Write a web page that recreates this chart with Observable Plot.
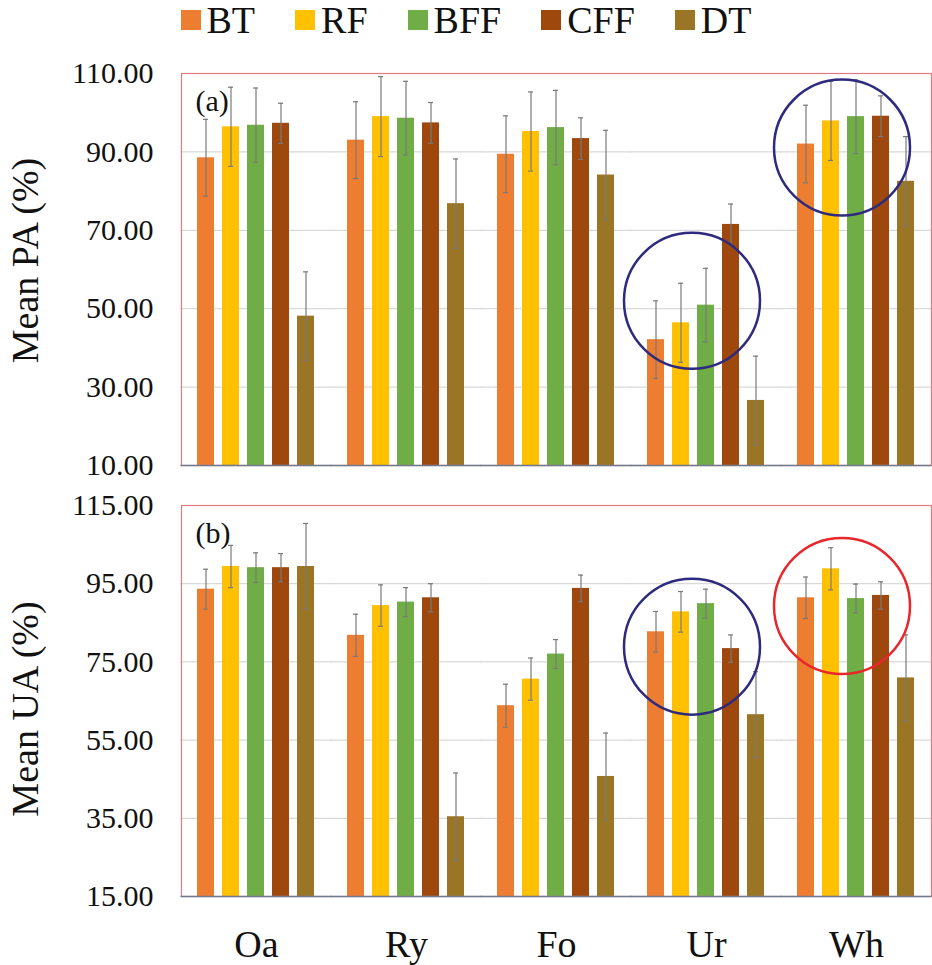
<!DOCTYPE html>
<html>
<head>
<meta charset="utf-8">
<script src="https://cdn.jsdelivr.net/npm/d3@7"></script>
<script src="https://cdn.jsdelivr.net/npm/@observablehq/plot@0.6"></script>
<style>
  html, body { margin: 0; padding: 0; background: #fff; }
  body { width: 932px; font-family: "Liberation Serif", "Times New Roman", serif; color: #111; }
  #legend { height: 40px; display: flex; justify-content: center; align-items: center; font-size: 38px; line-height: 1; }
  #legend .item { display: flex; align-items: center; margin: 0 20px; }
  #legend .sw { width: 20px; height: 20px; margin-right: 6px; }
  svg { display: block; }
</style>
</head>
<body>
<div id="legend"></div>
<div id="chart"></div>
<script>
// Land-cover classes and classification methods
const categories = ["Oa", "Ry", "Fo", "Ur", "Wh"];
const methods = ["BT", "RF", "BFF", "CFF", "DT"];
const colors = ["#ED7D31", "#FFC000", "#70AD47", "#9E480E", "#9a7526"];

// (a) Mean producer's accuracy (%) per method, ordered as categories
const paBT  = [88.5, 93.0, 89.4, 42.1, 92.0];
const paRF  = [96.4, 99.0, 95.2, 46.4, 97.9];
const paBFF = [96.8, 98.6, 96.2, 50.9, 99.0];
const paCFF = [97.3, 97.4, 93.4, 71.5, 99.1];
const paDT  = [48.1, 76.8, 84.1, 26.6, 82.5];
// (a) standard deviations
const paBTsd  = [9.8, 9.8, 9.8, 9.9, 9.9];
const paRFsd  = [10.1, 10.2, 10.1, 10.1, 10.1];
const paBFFsd = [9.5, 9.4, 9.5, 9.4, 9.4];
const paCFFsd = [5.1, 5.2, 5.3, 5.2, 5.2];
const paDTsd  = [11.3, 11.4, 11.4, 11.3, 11.4];

// (b) Mean user's accuracy (%)
const uaBT  = [93.6, 81.8, 63.8, 82.7, 91.4];
const uaRF  = [99.4, 89.4, 70.6, 87.8, 98.8];
const uaBFF = [99.1, 90.3, 77.0, 89.9, 91.2];
const uaCFF = [99.1, 91.4, 93.8, 78.4, 92.0];
const uaDT  = [99.4, 35.4, 45.7, 61.5, 70.9];
// (b) standard deviations
const uaBTsd  = [5.1, 5.4, 5.5, 5.2, 5.3];
const uaRFsd  = [5.4, 5.3, 5.4, 5.2, 5.4];
const uaBFFsd = [3.8, 3.7, 3.7, 3.7, 3.7];
const uaCFFsd = [3.6, 3.6, 3.4, 3.5, 3.5];
const uaDTsd  = [11.0, 11.2, 11.1, 11.0, 11.0];

// Axis ticks
const paTicks = [10, 30, 50, 70, 90, 110];
const uaTicks = [15, 35, 55, 75, 95, 115];

// Highlight rings: class, centre value, colour
const paRings = [
  {cat: "Ur", v: 52.0, color: "#2e2a7e"},
  {cat: "Wh", v: 91.1, color: "#2e2a7e"}
];
const uaRings = [
  {cat: "Ur", v: 78.9, color: "#2e2a7e"},
  {cat: "Wh", v: 89.3, color: "#e8262b"}
];

function rows(vals, sds) {
  const out = [];
  methods.forEach((m, j) => {
    categories.forEach((c, i) => {
      out.push({cat: c, method: m, v: vals[j][i], sd: sds[j][i]});
    });
  });
  return out;
}

const paData = rows([paBT, paRF, paBFF, paCFF, paDT], [paBTsd, paRFsd, paBFFsd, paCFFsd, paDTsd]);
const uaData = rows([uaBT, uaRF, uaBFF, uaCFF, uaDT], [uaBTsd, uaRFsd, uaBFFsd, uaCFFsd, uaDTsd]);

// Legend
const legend = document.getElementById("legend");
methods.forEach((m, i) => {
  const it = document.createElement("div");
  it.className = "item";
  it.innerHTML = `<span class="sw" style="background:${colors[i]}"></span><span>${m}</span>`;
  legend.appendChild(it);
});

const font = `"Liberation Serif", "Times New Roman", serif`;
// the outer padding of the group scale, bridged by rules and the frame
const pad = 15;
const span = {insetLeft: -pad - 0.5, insetRight: -pad - 0.5};

function panel({data, ticks, rings, title, tag, height, marginTop, marginBottom, showFx, titleDy}) {
  const y0 = ticks[0];
  return Plot.plot({
    width: 932,
    height,
    marginLeft: 180,
    marginRight: 1,
    marginTop,
    marginBottom,
    style: {fontFamily: font, color: "#111", background: "#fff", overflow: "visible"},
    fx: {domain: categories, paddingInner: 0.2, paddingOuter: 0.1, label: null, axis: null},
    x: {domain: methods, paddingInner: 0.31, paddingOuter: 0, axis: null},
    y: {domain: [ticks[0], ticks[ticks.length - 1]], axis: null},
    color: {domain: methods, range: colors},
    marks: [
      Plot.ruleY(ticks.slice(1, -1), {stroke: "#d0d0d0", strokeWidth: 1, ...span}),
      Plot.barY(data, {fx: "cat", x: "method", y1: y0, y2: "v", fill: "method"}),
      Plot.ruleX(data, {fx: "cat", x: "method", y1: d => d.v - d.sd, y2: d => d.v + d.sd, stroke: "#7a7a7a", strokeWidth: 1.2}),
      Plot.tickY(data, {fx: "cat", x: "method", y: d => d.v + d.sd, stroke: "#7a7a7a", strokeWidth: 1.2, insetLeft: 6, insetRight: 6}),
      Plot.tickY(data, {fx: "cat", x: "method", y: d => d.v - d.sd, stroke: "#7a7a7a", strokeWidth: 1.2, insetLeft: 6, insetRight: 6}),
      Plot.dot(rings, {fx: "cat", x: () => "BFF", y: "v", r: 68, dx: -14, stroke: "color", strokeWidth: 2.5, fill: "none"}),
      Plot.frame({stroke: "#e07b80", strokeWidth: 1.2, facet: "super", insetLeft: -pad, insetRight: -pad}),
      Plot.ruleY([y0], {stroke: "#6f7b8c", strokeWidth: 1.5, ...span}),
      Plot.axisY({ticks, tickFormat: d3.format(".2f"), tickSize: 0, tickPadding: 43, fontSize: 30, fontFamily: font, label: null}),
      Plot.text([tag], {frameAnchor: "top-left", dx: 14 - pad, dy: 16, fontSize: 30, fontFamily: font, facet: "super"}),
      Plot.text([title], {frameAnchor: "left", rotate: -90, textAnchor: "middle", lineAnchor: "middle", dx: -156 - pad, dy: titleDy, fontSize: 38, fontFamily: font, facet: "super"}),
      ...(showFx ? [Plot.axisFx({anchor: "bottom", tickSize: 0, tickPadding: 34, fontSize: 38, fontFamily: font, label: null})] : [])
    ]
  });
}

const chart = document.getElementById("chart");
chart.appendChild(panel({
  data: paData, ticks: paTicks, rings: paRings, title: "Mean PA (%)", tag: "(a)",
  height: 445, marginTop: 33, marginBottom: 20, showFx: false, titleDy: -9
}));
chart.appendChild(panel({
  data: uaData, ticks: uaTicks, rings: uaRings, title: "Mean UA (%)", tag: "(b)",
  height: 480, marginTop: 20, marginBottom: 69, showFx: true, titleDy: 8
}));
</script>
</body>
</html>
